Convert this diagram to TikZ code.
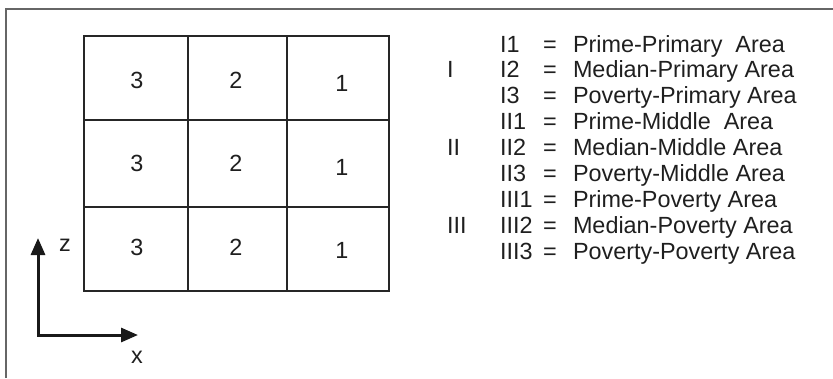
\documentclass[tikz,border=0pt]{standalone}
\usepackage{fontspec}
\setmainfont{Liberation Sans}
\usetikzlibrary{arrows.meta}
\begin{document}
\begin{tikzpicture}[x=1pt,y=-1pt,
  every node/.style={inner sep=0pt,outer sep=0pt,font=\fontsize{23.4}{26}\selectfont,text=black!88},
  gridline/.style={line width=1.8pt,black!85},
  frameline/.style={line width=1.5pt,black!60},
  axis/.style={line width=3pt,black!90,line join=miter,{Triangle[length=17pt,width=14pt]}-{Triangle[length=17pt,width=14pt]}},
  num/.style={anchor=base},
  lbl/.style={anchor=base west}]
\useasboundingbox (0,0) rectangle (833,378);
% frame
\draw[frameline] (6,378) -- (6,9) -- (833,9);
% grid
\draw[gridline] (84,36) rectangle (389,291);
\draw[gridline] (188,36) -- (188,291);
\draw[gridline] (287,36) -- (287,291);
\draw[gridline] (84,120) -- (389,120);
\draw[gridline] (84,207) -- (389,207);
% numbers
\node[num] (a31) at (137,88) {3};
\node[num] (a21) at (236,88) {2};
\node[num] (a11) at (342,91) {1};
\node[num] (a32) at (137,171) {3};
\node[num] (a22) at (236,171) {2};
\node[num] (a12) at (342,175) {1};
\node[num] (a33) at (137,255) {3};
\node[num] (a23) at (236,255) {2};
\node[num] (a13) at (342,258) {1};
% axes
\coordinate (zt) at (38,238);
\coordinate (o) at (38,335);
\coordinate (xt) at (138,335);
\draw[axis] (zt) -- (o) -- (xt);
\node (zl) at (65,245) {z};
\node (xl) at (137,357) {x};
% legend
\foreach \i/\code/\txt [count=\k from 0] in {
  1/I1/{Prime-Primary\ \ Area},
  2/I2/{Median-Primary Area},
  3/I3/{Poverty-Primary Area},
  4/II1/{Prime-Middle\ \ Area},
  5/II2/{Median-Middle Area},
  6/II3/{Poverty-Middle Area},
  7/III1/{Prime-Poverty Area},
  8/III2/{Median-Poverty Area},
  9/III3/{Poverty-Poverty Area}} {
  \node[lbl] (c\i) at (500,{52+25.9*\k}) {\code};
  \node[anchor=base] (e\i) at (550,{52+25.9*\k}) {=};
  \node[lbl] (t\i) at (573,{52+25.9*\k}) {\txt};
}
\node[lbl] (r1) at (447,77.9) {I};
\node[lbl] (r2) at (447,155.6) {II};
\node[lbl] (r3) at (447,233.3) {III};
\end{tikzpicture}
\end{document}
